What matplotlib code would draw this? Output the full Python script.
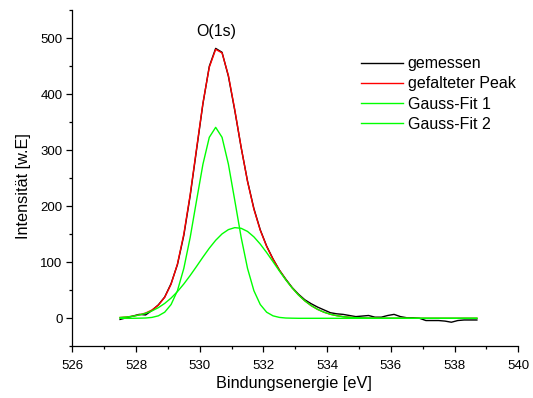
import numpy as np
import matplotlib
matplotlib.use('Agg')
import matplotlib.pyplot as plt
from matplotlib.ticker import MultipleLocator

plt.rcParams['font.family'] = ['Liberation Sans', 'DejaVu Sans']

# Bindungsenergie-Raster (eV), 0.2 eV Schritte
energie = np.round(np.arange(527.5, 538.71, 0.2), 1)

gemessen = [-2, 1, 4, 7, 6, 14, 24, 38, 62, 96,
            148, 219, 301, 383, 450, 482, 475, 432, 371, 305,
            245, 196, 158, 129, 106, 86, 70, 55, 43, 33,
            26, 20, 15, 10, 8, 7, 5, 3, 4, 5,
            2, 2, 5, 7, 3, 1, 1, 0, -4, -4,
            -4, -5, -7, -4, -3, -3, -3]

gefaltet = [1.4, 2.3, 3.7, 6.1, 9.4, 14.8, 23.4, 37.5, 60.7, 97.0,
            150.4, 221.0, 303.1, 384.4, 448.4, 480.3, 473.9, 433.5, 372.3, 305.2,
            244.2, 194.7, 157.1, 128.3, 105.5, 86.1, 69.2, 54.5, 41.7, 31.1,
            22.6, 15.9, 10.9, 7.2, 4.7, 2.9, 1.8, 1.1, 0.6, 0.3,
            0.2, 0, 0, 0, 0, 0, 0, 0, 0, 0,
            0, 0, 0, 0, 0, 0, 0]

gauss1 = [0, 0, 0, 0.2, 0.5, 1.6, 4.4, 10.9, 24.6, 49.3,
          89.1, 144.5, 210.4, 275.1, 323.2, 341.0, 323.2, 275.1, 210.4, 144.5,
          89.1, 49.3, 24.6, 10.9, 4.4, 1.6, 0.5, 0.2, 0, 0,
          0, 0, 0, 0, 0, 0, 0, 0, 0, 0,
          0, 0, 0, 0, 0, 0, 0, 0, 0, 0,
          0, 0, 0, 0, 0, 0, 0]

gauss2 = [1.4, 2.3, 3.7, 5.9, 8.9, 13.2, 19.0, 26.6, 36.1, 47.7,
          61.3, 76.5, 92.7, 109.3, 125.2, 139.3, 150.7, 158.4, 161.9, 160.7,
          155.1, 145.4, 132.5, 117.4, 101.1, 84.5, 68.7, 54.3, 41.7, 31.1,
          22.6, 15.9, 10.9, 7.2, 4.7, 2.9, 1.8, 1.1, 0.6, 0.3,
          0.2, 0, 0, 0, 0, 0, 0, 0, 0, 0,
          0, 0, 0, 0, 0, 0, 0]

fig = plt.figure(figsize=(5.33, 3.98), dpi=100)
ax = fig.add_axes([0.1357, 0.1299, 0.8367, 0.8442])

ax.plot(energie, gemessen, color='black', lw=1.0, label='gemessen')
ax.plot(energie, gefaltet, color='#ff0000', lw=1.0, label='gefalteter Peak')
ax.plot(energie, gauss1, color='#00ff00', lw=1.0, label='Gauss-Fit 1')
ax.plot(energie, gauss2, color='#00ff00', lw=1.0, label='Gauss-Fit 2')

ax.text(530.53, 513, 'O(1s)', ha='center', va='center', fontsize=11.5)

ax.set_xlim(526, 540)
ax.set_ylim(-50, 550)
ax.xaxis.set_major_locator(MultipleLocator(2))
ax.xaxis.set_minor_locator(MultipleLocator(1))
ax.yaxis.set_major_locator(MultipleLocator(100))
ax.yaxis.set_minor_locator(MultipleLocator(50))
ax.spines['top'].set_visible(False)
ax.spines['right'].set_visible(False)
for s in ['left', 'bottom']:
    ax.spines[s].set_linewidth(0.9)
ax.tick_params(which='major', direction='out', length=4, width=0.9, labelsize=9.5, pad=3)
ax.tick_params(which='minor', direction='out', length=2.5, width=0.9)
ax.tick_params(axis='x', which='major', pad=6)

ax.set_xlabel('Bindungsenergie [eV]', fontsize=11.7)
ax.set_ylabel('Intensität [w.E]', fontsize=11.7)
# Achsentitel-Positionen wie im Original
ax.xaxis.set_label_coords(0.497, -0.088)
ax.yaxis.set_label_coords(-0.093, 0.477)

ax.legend(loc='upper left', bbox_to_anchor=(0.634, 0.882), frameon=False, fontsize=11.5,
          handlelength=2.6, handletextpad=0.3, labelspacing=0.32, borderaxespad=0)

fig.savefig('out.png', dpi=100)
